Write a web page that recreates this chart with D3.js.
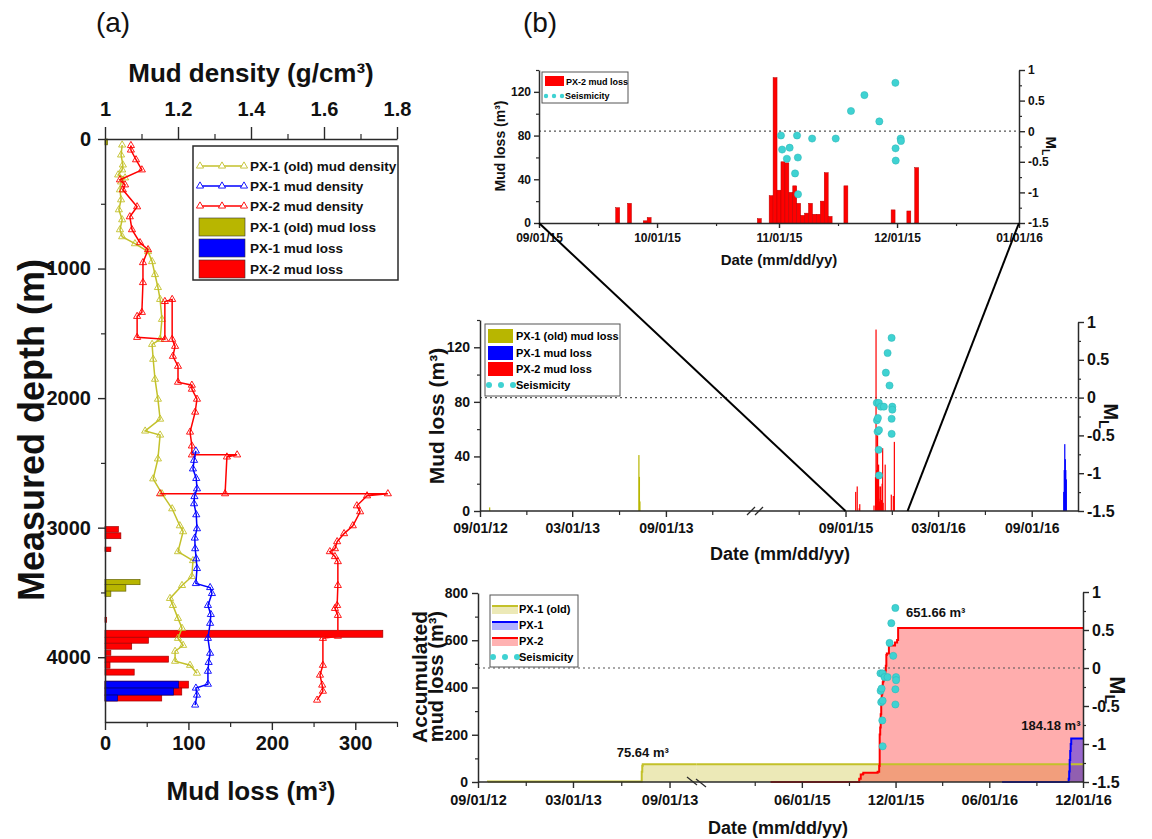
<!DOCTYPE html>
<html>
<head>
<meta charset="utf-8">
<script src="https://cdn.jsdelivr.net/npm/d3@7"></script>
<style>
  body { margin: 0; background: #fff; }
  svg { display: block; }
</style>
</head>
<body>
<svg id="fig" width="1152" height="839"></svg>
<script>
// ---------- panel (a): mud density profiles, [depth m, density g/cm3]
const px1OldDensity = [[46,1.047],[123,1.044],[200,1.049],[238,1.047],[277,1.036],[300,1.055],[331,1.044],[392,1.041],
  [469,1.044],[546,1.038],[623,1.047],[700,1.041],[754,1.047],[808,1.082],[869,1.118],[946,1.129],[1046,1.137],
  [1146,1.145],[1238,1.151],[1392,1.156],[1546,1.151],[1585,1.129],[1700,1.132],[1854,1.137],[2008,1.145],
  [2162,1.151],[2254,1.110],[2285,1.151],[2469,1.145],[2623,1.132],[2738,1.156],[2854,1.184],[2985,1.205],
  [3031,1.214],[3185,1.200],[3254,1.241],[3377,1.238],[3446,1.211],[3546,1.178],[3600,1.186],[3700,1.200],
  [3777,1.211],[3854,1.200],[3908,1.214],[3954,1.192],[4031,1.192],[4062,1.233],[4123,1.252]];
const px1Density = [[2408,1.249],[2480,1.244],[2546,1.241],[2620,1.250],[2700,1.252],[2760,1.245],[2815,1.244],
  [2900,1.250],[3008,1.252],[3080,1.246],[3162,1.247],[3240,1.250],[3315,1.252],[3431,1.249],[3462,1.288],
  [3508,1.293],[3600,1.282],[3670,1.290],[3738,1.288],[3854,1.282],[3969,1.288],[4040,1.284],[4108,1.282],
  [4208,1.282],[4238,1.249],[4292,1.252],[4369,1.247]];
const px2Density = [[50,1.071],[85,1.071],[160,1.085],[238,1.101],[315,1.041],[354,1.055],[392,1.049],[523,1.088],
  [600,1.068],[700,1.074],[800,1.096],[854,1.118],[954,1.104],[1108,1.104],[1338,1.101],[1369,1.088],[1531,1.088],
  [1546,1.164],[1254,1.164],[1238,1.184],[1546,1.184],[1600,1.192],[1677,1.186],[1754,1.200],[1877,1.200],
  [1900,1.238],[1931,1.238],[2008,1.252],[2108,1.247],[2262,1.233],[2369,1.238],[2438,1.238],[2438,1.362],
  [2454,1.334],[2738,1.329],[2738,1.151],[2738,1.775],[2754,1.718],[2831,1.690],[2877,1.699],[2985,1.679],
  [3046,1.655],[3108,1.636],[3162,1.630],[3185,1.616],[3223,1.630],[3262,1.638],[3446,1.638],[3600,1.636],
  [3623,1.630],[3677,1.638],[3838,1.638],[3854,1.597],[4062,1.597],[4138,1.589],[4215,1.595],[4262,1.597],
  [4331,1.581]];

// mud loss per depth interval, [top m, bottom m, loss m3]
const px1OldLossDepth = [[0,45,3],[3400,3440,42],[3440,3490,25],[3490,3530,7]];
const px1LossDepth = [[4185,4238,88],[4238,4292,82],[4292,4338,15]];
const px2LossDepth = [[2992,3035,16],[3040,3085,19],[3150,3185,7],[3692,3730,2],[3792,3846,333],[3846,3892,52],
  [3892,3938,32],[3946,3985,7],[3992,4038,76],[4038,4085,6],[4092,4138,35],[4185,4238,100],[4238,4292,92],
  [4292,4338,68]];

// ---------- panel (b): daily mud loss (m3)
const px1OldDates = ["2012-09-20","2013-07-10","2013-07-11","2013-07-12"];
const px1OldLoss = [2.64, 41, 25, 7];
const px1Dates = ["2016-11-03","2016-11-04","2016-11-05","2016-11-06","2016-11-07","2016-11-08"];
const px1Loss = [14, 30, 49, 38, 30, 23.18];
const px2Dates = ["2015-09-21","2015-09-24","2015-09-28","2015-09-29","2015-10-27","2015-10-30","2015-10-31",
  "2015-11-01","2015-11-02","2015-11-03","2015-11-04","2015-11-05","2015-11-06","2015-11-07","2015-11-08",
  "2015-11-09","2015-11-10","2015-11-11","2015-11-12","2015-11-13","2015-11-14","2015-11-18","2015-11-30",
  "2015-12-04","2015-12-06"];
const px2Loss = [14, 18, 2, 5, 4, 25, 133, 30, 56, 55, 28, 34, 18, 7, 9, 18, 8, 8, 20, 46, 6, 34, 12, 11, 50.66];

// drilling spans for the accumulated curves
const px1OldSpan = ["2012-09-20", "2016-12-01"];
const px1Span = ["2016-06-26", "2016-12-01"];
const px2Span = ["2015-04-01", "2016-12-01"];

// seismicity: event time, local magnitude
const quakeTimes = ["2015-11-01 12:00","2015-11-01 19:00","2015-11-03 00:00","2015-11-03 17:00","2015-11-05 02:00",
  "2015-11-05 14:00","2015-11-05 19:00","2015-11-05 20:00","2015-11-09 10:00","2015-11-15 10:00","2015-11-19 07:00",
  "2015-11-22 17:00","2015-11-26 12:00","2015-11-30 14:00","2015-11-30 15:00","2015-11-30 16:00","2015-12-01 22:00",
  "2015-12-02 00:00"];
const quakeML = [-0.07,-0.30,-0.45,-0.27,-0.69,-0.07,-0.43,-1.03,-0.12,-0.12,0.33,0.59,0.16,0.79,-0.28,-0.48,-0.12,-0.16];

// ticks
const densityTicks = [1, 1.2, 1.4, 1.6, 1.8];
const depthTicks = [0, 1000, 2000, 3000, 4000];
const lossDepthTicks = [0, 100, 200, 300];
const mlTicks = [-1.5, -1, -0.5, 0, 0.5, 1];
const zoomTicks = ["2015-09-01","2015-10-01","2015-11-01","2015-12-01","2016-01-01"];
const midMajor = ["2012-09-01","2013-03-01","2013-09-01","2015-09-01","2016-03-01","2016-09-01"];
const midMinor = ["2012-12-01","2013-06-01","2013-12-01","2015-06-01","2015-12-01","2016-06-01"];
const botMajor = ["2012-09-01","2013-03-01","2013-09-01","2015-06-01","2015-12-01","2016-06-01","2016-12-01"];
const botMinor = ["2012-12-01","2013-06-01","2015-03-01","2015-09-01","2016-03-01","2016-09-01"];

// ---------------------------------------------------------------
const svg = d3.select("#fig").attr("font-family", "'Liberation Sans', Arial, sans-serif");
const parseDay = d3.timeParse("%Y-%m-%d");
const parseTime = d3.timeParse("%Y-%m-%d %H:%M");
const fmtDate = d3.timeFormat("%m/%d/%y");
const OLD = "#b8b600", OLD_LINE = "#c3c12a", BLUE = "#0000ff", RED = "#ff0000", CYAN = "#3fd2d2", INK = "#2a2a2a";

const quakes = quakeTimes.map((t, i) => [parseTime(t), quakeML[i]]);
const daily = (dates, vals) => dates.map((d, i) => [parseDay(d), vals[i]]);
const oldDaily = daily(px1OldDates, px1OldLoss);
const px1Daily = daily(px1Dates, px1Loss);
const px2Daily = daily(px2Dates, px2Loss);

function styleAxis(g, size) {
  g.attr("font-family", null).attr("font-size", null);
  g.select(".domain").attr("stroke", INK).attr("stroke-width", 1.5);
  g.selectAll(".tick line").attr("stroke", INK).attr("stroke-width", 1.4);
  g.selectAll(".tick text").attr("font-size", size).attr("font-weight", "bold").attr("fill", "#111");
  return g;
}
function minor(g, axis) {
  g.call(axis.tickFormat("").tickSizeOuter(0));
  g.select(".domain").remove();
  g.selectAll(".tick line").attr("stroke", INK).attr("stroke-width", 1.2);
}
function label(x, y, txt, size, rot, weight, anchor) {
  const t = svg.append("text").attr("transform", `translate(${x},${y})` + (rot ? ` rotate(${rot})` : ""))
    .attr("text-anchor", anchor || "middle").attr("font-size", size).attr("font-weight", weight || "bold").attr("fill", "#111");
  t.text(txt);
  return t;
}
function mlLabel(x, y, size) {
  const t = svg.append("text").attr("transform", `translate(${x},${y}) rotate(90)`)
    .attr("text-anchor", "middle").attr("font-size", size).attr("font-weight", "bold").attr("fill", "#111");
  t.append("tspan").text("M");
  t.append("tspan").attr("font-size", size * 0.7).attr("dy", size * 0.25).text("L");
}
function mlAxis(scale, x, size) {
  styleAxis(svg.append("g").attr("transform", `translate(${x},0)`)
    .call(d3.axisRight(scale).tickValues(mlTicks).tickFormat(d => String(d)).tickSize(6).tickPadding(3).tickSizeOuter(0)), size);
  minor(svg.append("g").attr("transform", `translate(${x},0)`),
    d3.axisRight(scale).tickValues([-1.25, -0.75, -0.25, 0.25, 0.75]).tickSize(3));
}
function dotted(x0, x1, y) {
  svg.append("line").attr("x1", x0).attr("x2", x1).attr("y1", y).attr("y2", y)
    .attr("stroke", "#555").attr("stroke-width", 1.2).attr("stroke-dasharray", "2,3");
}
function quakeDots(g, xs, ys) {
  g.append("g").selectAll("circle").data(quakes).join("circle")
    .attr("cx", d => xs(d[0])).attr("cy", d => ys(d[1])).attr("r", 3.6)
    .attr("fill", CYAN).attr("stroke", "#2bb5b5").attr("stroke-width", 0.5);
}

// ================= panel (a)
const aDen = d3.scaleLinear().domain([1, 1.8]).range([105, 397]);
const aLoss = d3.scaleLinear().domain([0, 350]).range([105, 397]);
const aDep = d3.scaleLinear().domain([0, 4500]).range([139, 722]);
const gA = svg.append("g");

[[px2LossDepth, RED, "#a00000"], [px1OldLossDepth, OLD, "#666400"], [px1LossDepth, BLUE, "#00007a"]]
  .forEach(([rows, fill, edge]) => {
    gA.append("g").selectAll("rect").data(rows).join("rect")
      .attr("x", aLoss(0)).attr("y", d => aDep(d[0]))
      .attr("width", d => aLoss(d[2]) - aLoss(0)).attr("height", d => aDep(d[1]) - aDep(d[0]))
      .attr("fill", fill).attr("stroke", edge).attr("stroke-width", 0.7);
  });

const tri = d3.symbol(d3.symbolTriangle, 22);
[[px1OldDensity, OLD_LINE], [px2Density, RED], [px1Density, BLUE]].forEach(([rows, col]) => {
  const line = d3.line().x(d => aDen(d[1])).y(d => aDep(d[0]));
  gA.append("path").datum(rows).attr("d", line).attr("fill", "none").attr("stroke", col).attr("stroke-width", 1.5);
  gA.append("g").selectAll("path").data(rows).join("path")
    .attr("d", tri).attr("transform", d => `translate(${aDen(d[1])},${aDep(d[0])})`)
    .attr("fill", "none").attr("stroke", col).attr("stroke-width", 0.9);
});

styleAxis(svg.append("g").attr("transform", "translate(0,139)")
  .call(d3.axisTop(aDen).tickValues(densityTicks).tickFormat(d => d).tickSize(12).tickPadding(11).tickSizeOuter(0)), 20);
minor(svg.append("g").attr("transform", "translate(0,139)"), d3.axisTop(aDen).tickValues([1.1, 1.3, 1.5, 1.7]).tickSize(5));
styleAxis(svg.append("g").attr("transform", "translate(105,0)")
  .call(d3.axisLeft(aDep).tickValues(depthTicks).tickFormat(d => String(d)).tickSize(7).tickPadding(7).tickSizeOuter(0)), 20);
minor(svg.append("g").attr("transform", "translate(105,0)"), d3.axisLeft(aDep).tickValues([500, 1500, 2500, 3500]).tickSize(4));
styleAxis(svg.append("g").attr("transform", "translate(0,722)")
  .call(d3.axisBottom(aLoss).tickValues(lossDepthTicks).tickFormat(d => String(d)).tickSize(8).tickPadding(6).tickSizeOuter(0)), 20);
minor(svg.append("g").attr("transform", "translate(0,722)"), d3.axisBottom(aLoss).tickValues([50, 150, 250, 350]).tickSize(5));

label(251, 82, "Mud density (g/cm³)", 26);
label(251, 800, "Mud loss (m³)", 26);
label(44, 430, "Measured depth (m)", 36, -90);
label(113, 32, "(a)", 28, 0, "normal");
label(540, 32, "(b)", 28, 0, "normal");

// legend (a)
const legA = svg.append("g");
legA.append("rect").attr("x", 193).attr("y", 146).attr("width", 205).attr("height", 134)
  .attr("fill", "#fff").attr("stroke", INK).attr("stroke-width", 1.5);
[["PX-1 (old) mud density", OLD_LINE, "line"], ["PX-1 mud density", BLUE, "line"], ["PX-2 mud density", RED, "line"],
 ["PX-1 (old) mud loss", OLD, "bar"], ["PX-1 mud loss", BLUE, "bar"], ["PX-2 mud loss", RED, "bar"]]
  .forEach(([name, col, kind], i) => {
    const y = [166, 186, 206, 227, 248, 269][i];
    if (kind === "line") {
      legA.append("line").attr("x1", 200).attr("x2", 244).attr("y1", y).attr("y2", y).attr("stroke", col).attr("stroke-width", 1.5);
      [200, 222, 244].forEach(x => legA.append("path").attr("d", tri).attr("transform", `translate(${x},${y})`)
        .attr("fill", "#fff").attr("stroke", col).attr("stroke-width", 0.9));
    } else {
      legA.append("rect").attr("x", 199).attr("y", y - 9).attr("width", 46).attr("height", 18)
        .attr("fill", col).attr("stroke", "#333").attr("stroke-width", 0.6);
    }
    legA.append("text").attr("x", 250).attr("y", y + 5).attr("font-size", 13.5).attr("font-weight", "bold")
      .attr("fill", "#111").text(name);
  });

// ================= panel (b) top: zoom Sep-Dec 2015
const tDate = d3.scaleTime().domain([parseDay("2015-09-01"), parseDay("2016-01-01")]).range([539, 1019]);
const tLoss = d3.scaleLinear().domain([0, 140]).range([223, 70]);
const tML = d3.scaleLinear().domain([-1.5, 1]).range([223, 70]);
const dayW = tDate(parseDay("2015-09-02")) - tDate(parseDay("2015-09-01"));

dotted(539, 1019, tML(0));
svg.append("g").selectAll("rect").data(px2Daily).join("rect")
  .attr("x", d => tDate(d[0]) - dayW / 2).attr("width", dayW)
  .attr("y", d => tLoss(d[1])).attr("height", d => tLoss(0) - tLoss(d[1]))
  .attr("fill", RED).attr("stroke", "#b80000").attr("stroke-width", 0.5);
quakeDots(svg, tDate, tML);

styleAxis(svg.append("g").attr("transform", "translate(539,0)")
  .call(d3.axisLeft(tLoss).tickValues([0, 40, 80, 120]).tickSize(5).tickPadding(3).tickSizeOuter(0)), 12);
minor(svg.append("g").attr("transform", "translate(539,0)"), d3.axisLeft(tLoss).tickValues([20, 60, 100, 140]).tickSize(3));
styleAxis(svg.append("g").attr("transform", "translate(0,223)")
  .call(d3.axisBottom(tDate).tickValues(zoomTicks.map(parseDay)).tickFormat(fmtDate).tickSize(5).tickPadding(5).tickSizeOuter(0)), 12);
minor(svg.append("g").attr("transform", "translate(0,223)"),
  d3.axisBottom(tDate).tickValues(["2015-09-16","2015-10-16","2015-11-16","2015-12-16"].map(parseDay)).tickSize(3));
mlAxis(tML, 1019, 12);
label(505, 146, "Mud loss (m³)", 14, -90);
label(779, 265, "Date (mm/dd/yy)", 15);
mlLabel(1046, 146, 15);

const legT = svg.append("g");
legT.append("rect").attr("x", 542).attr("y", 72).attr("width", 86).attr("height", 31)
  .attr("fill", "#fff").attr("stroke", "#555").attr("stroke-width", 1);
legT.append("rect").attr("x", 545).attr("y", 76).attr("width", 19).attr("height", 10).attr("fill", RED);
legT.append("text").attr("x", 566).attr("y", 85).attr("font-size", 9).attr("font-weight", "bold").text("PX-2 mud loss");
[546, 554, 562].forEach(x => legT.append("circle").attr("cx", x).attr("cy", 96).attr("r", 2.2).attr("fill", CYAN));
legT.append("text").attr("x", 565).attr("y", 99).attr("font-size", 9).attr("font-weight", "bold").text("Seismicity");

// ================= panel (b) middle: daily loss with axis break
const mSeg = [
  d3.scaleTime().domain([parseDay("2012-09-01"), parseDay("2014-02-19")]).range([480, 753]),
  d3.scaleTime().domain([parseDay("2015-03-11"), parseDay("2016-12-01")]).range([757, 1078])
];
const mLoss = d3.scaleLinear().domain([0, 140]).range([511, 320]);
const mML = d3.scaleLinear().domain([-1.5, 1]).range([511, 322]);
const defs = svg.append("defs");

dotted(480, 1078, mML(0));
mSeg.forEach((sc, i) => {
  const [r0, r1] = sc.range();
  defs.append("clipPath").attr("id", "mclip" + i).append("rect")
    .attr("x", r0).attr("y", 300).attr("width", r1 - r0).attr("height", 212);
  const g = svg.append("g").attr("clip-path", `url(#mclip${i})`);
  [[oldDaily, OLD], [px2Daily, RED], [px1Daily, BLUE]].forEach(([rows, col]) => {
    g.append("g").selectAll("rect").data(rows).join("rect")
      .attr("x", d => sc(d[0]) - 0.6).attr("width", 1.2)
      .attr("y", d => mLoss(d[1])).attr("height", d => mLoss(0) - mLoss(d[1])).attr("fill", col);
  });
  if (i === 1) quakeDots(g, sc, mML);
  const inSeg = arr => arr.map(parseDay).filter(d => d >= sc.domain()[0] && d <= sc.domain()[1]);
  const ax = styleAxis(svg.append("g").attr("transform", "translate(0,511)")
    .call(d3.axisBottom(sc).tickValues(inSeg(midMajor)).tickFormat(fmtDate).tickSize(6).tickPadding(6).tickSizeOuter(0)), 14);
  ax.select(".domain").remove();
  minor(svg.append("g").attr("transform", "translate(0,511)"), d3.axisBottom(sc).tickValues(inSeg(midMinor)).tickSize(4));
});
svg.append("line").attr("x1", 480).attr("x2", 1078).attr("y1", 511).attr("y2", 511).attr("stroke", INK).attr("stroke-width", 1.5);
[751, 759].forEach(c => svg.append("line").attr("x1", c - 4).attr("y1", 515).attr("x2", c + 4).attr("y2", 507)
  .attr("stroke", INK).attr("stroke-width", 1.3));
styleAxis(svg.append("g").attr("transform", "translate(480,0)")
  .call(d3.axisLeft(mLoss).tickValues([0, 40, 80, 120]).tickSize(6).tickPadding(4).tickSizeOuter(0)), 14);
minor(svg.append("g").attr("transform", "translate(480,0)"), d3.axisLeft(mLoss).tickValues([20, 60, 100, 140]).tickSize(3));
mlAxis(mML, 1078, 16);
label(444, 416, "Mud loss (m³)", 21, -90);
label(780, 560, "Date (mm/dd/yy)", 18);
mlLabel(1104, 416, 20);

const legM = svg.append("g");
legM.append("rect").attr("x", 485).attr("y", 324).attr("width", 135).attr("height", 72)
  .attr("fill", "#fff").attr("stroke", "#555").attr("stroke-width", 1);
[["PX-1 (old) mud loss", OLD], ["PX-1 mud loss", BLUE], ["PX-2 mud loss", RED]].forEach(([name, col], i) => {
  const y = [336, 353, 369][i];
  legM.append("rect").attr("x", 488).attr("y", y - 7).attr("width", 25).attr("height", 14).attr("fill", col);
  legM.append("text").attr("x", 516).attr("y", y + 4).attr("font-size", 11).attr("font-weight", "bold").text(name);
});
[489, 501, 513].forEach(x => legM.append("circle").attr("cx", x).attr("cy", 385).attr("r", 3).attr("fill", CYAN));
legM.append("text").attr("x", 516).attr("y", 389).attr("font-size", 11).attr("font-weight", "bold").text("Seismicity");

// zoom connectors
["2015-09-01", "2016-01-01"].forEach(d => {
  const day = parseDay(d);
  svg.append("line").attr("x1", tDate(day)).attr("y1", 223).attr("x2", mSeg[1](day)).attr("y2", 511)
    .attr("stroke", "#000").attr("stroke-width", 2);
});

// ================= panel (b) bottom: accumulated loss
const bSeg = [
  d3.scaleTime().domain([parseDay("2012-09-01"), parseDay("2013-10-10")]).range([478, 690]),
  d3.scaleTime().domain([parseDay("2014-11-20"), parseDay("2016-12-01")]).range([703, 1083])
];
const bAcc = d3.scaleLinear().domain([0, 800]).range([782, 593]);
const bML = d3.scaleLinear().domain([-1.5, 1]).range([782, 592]);

function accumulate(span, rows) {
  let s = 0;
  const pts = [[parseDay(span[0]), 0]];
  rows.forEach(r => { s += r[1]; pts.push([r[0], s]); });
  pts.push([parseDay(span[1]), s]);
  return pts;
}
const accOld = accumulate(px1OldSpan, oldDaily);
const accPx1 = accumulate(px1Span, px1Daily);
const accPx2 = accumulate(px2Span, px2Daily);
const series = [[accOld, OLD_LINE, "#c8c030", 0.35], [accPx2, RED, "#ff0000", 0.32], [accPx1, BLUE, "#0000ff", 0.4]];

// the two clip windows meet in the middle of the break so fills run across it
const bClip = [[478, 696.5], [696.5, 1083]];
bSeg.forEach((sc, i) => {
  const [c0, c1] = bClip[i];
  defs.append("clipPath").attr("id", "bclip" + i).append("rect")
    .attr("x", c0).attr("y", 580).attr("width", c1 - c0).attr("height", 203);
  const g = svg.append("g").attr("clip-path", `url(#bclip${i})`);
  const area = d3.area().curve(d3.curveStepAfter).x(d => sc(d[0])).y0(bAcc(0)).y1(d => bAcc(d[1]));
  const line = d3.line().curve(d3.curveStepAfter).x(d => sc(d[0])).y(d => bAcc(d[1]));
  series.forEach(([pts, , fill, op]) => g.append("path").datum(pts).attr("d", area).attr("fill", fill).attr("fill-opacity", op));
  series.forEach(([pts, col]) => g.append("path").datum(pts).attr("d", line).attr("fill", "none").attr("stroke", col).attr("stroke-width", 2));
  if (i === 1) quakeDots(g, sc, bML);
  const inSeg = arr => arr.map(parseDay).filter(d => d >= sc.domain()[0] && d <= sc.domain()[1]);
  const ax = styleAxis(svg.append("g").attr("transform", "translate(0,782)")
    .call(d3.axisBottom(sc).tickValues(inSeg(botMajor)).tickFormat(fmtDate).tickSize(6).tickPadding(7).tickSizeOuter(0)), 14.5);
  ax.select(".domain").remove();
  minor(svg.append("g").attr("transform", "translate(0,782)"), d3.axisBottom(sc).tickValues(inSeg(botMinor)).tickSize(4));
});
dotted(478, 1083, bML(0));
svg.append("line").attr("x1", 478).attr("x2", 1083).attr("y1", 782).attr("y2", 782).attr("stroke", INK).attr("stroke-width", 1.5);
[[687, 777, 697, 785], [696, 779, 706, 787]].forEach(([x1, y1, x2, y2]) => svg.append("line")
  .attr("x1", x1).attr("y1", y1).attr("x2", x2).attr("y2", y2).attr("stroke", INK).attr("stroke-width", 1.3));
styleAxis(svg.append("g").attr("transform", "translate(478,0)")
  .call(d3.axisLeft(bAcc).tickValues([0, 200, 400, 600, 800]).tickSize(6).tickPadding(4).tickSizeOuter(0)), 14);
minor(svg.append("g").attr("transform", "translate(478,0)"), d3.axisLeft(bAcc).tickValues([100, 300, 500, 700]).tickSize(3));
mlAxis(bML, 1083, 16);
label(427, 611, "Accumulated", 21, -90, "bold", "end");
label(443, 611, "mud loss (m³)", 20, -90, "bold", "end");
label(778, 834, "Date (mm/dd/yy)", 18);
mlLabel(1110, 690, 22);

// annotations
const lastOf = pts => pts[pts.length - 1];
const ann = [[accOld, bSeg[0], "2013-07-12", 0, 7, "middle", "75.64 m³"],
             [accPx2, bSeg[1], "2015-12-06", 8, 11, "start", "651.66 m³"],
             [accPx1, bSeg[1], "2016-11-08", -50, 8, "start", "184.18 m³"]];
ann.forEach(([pts, sc, d, dx, dy, anchor, txt]) => {
  svg.append("text").attr("x", sc(parseDay(d)) + dx).attr("y", bAcc(lastOf(pts)[1]) - dy)
    .attr("text-anchor", anchor).attr("font-size", 13).attr("font-weight", "bold").attr("fill", "#111").text(txt);
});

const legB = svg.append("g");
legB.append("rect").attr("x", 490).attr("y", 595).attr("width", 88).attr("height", 72)
  .attr("fill", "#fff").attr("stroke", "#555").attr("stroke-width", 1);
[["PX-1 (old)", OLD_LINE, "#c8c030", 0.35], ["PX-1", BLUE, "#0000ff", 0.3], ["PX-2", RED, "#ff0000", 0.3]]
  .forEach(([name, col, fill, op], i) => {
    const y = [609, 625, 641][i];
    legB.append("rect").attr("x", 492).attr("y", y - 3).attr("width", 26).attr("height", 8).attr("fill", fill).attr("fill-opacity", op);
    legB.append("line").attr("x1", 492).attr("x2", 518).attr("y1", y - 3).attr("y2", y - 3).attr("stroke", col).attr("stroke-width", 2);
    legB.append("text").attr("x", 519).attr("y", y + 4).attr("font-size", 11).attr("font-weight", "bold").text(name);
  });
[493, 505, 517].forEach(x => legB.append("circle").attr("cx", x).attr("cy", 657).attr("r", 3).attr("fill", CYAN));
legB.append("text").attr("x", 519).attr("y", 661).attr("font-size", 11).attr("font-weight", "bold").text("Seismicity");
</script>
</body>
</html>
